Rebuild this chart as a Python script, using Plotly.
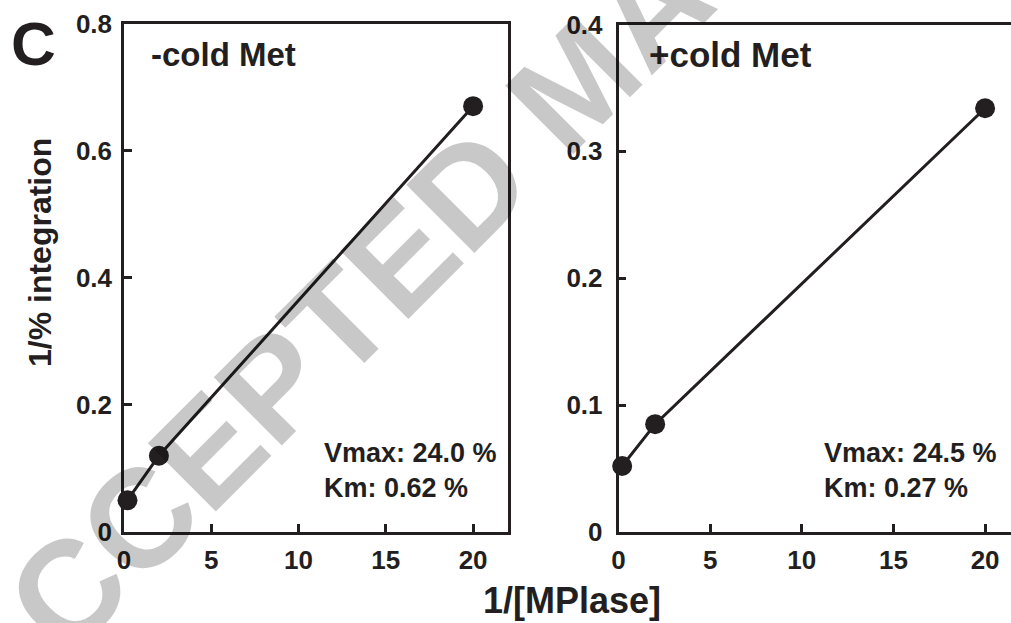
import plotly.graph_objects as go

# ---- data ----
inv_mplase = [0.2, 2, 20]                 # 1/[MPlase]
minus_cold_met = [0.05, 0.12, 0.67]       # 1/% integration, -cold Met
plus_cold_met = [0.052, 0.085, 0.334]     # 1/% integration, +cold Met

x_tick_vals = [0, 5, 10, 15, 20]
x_tick_text = ["0", "5", "10", "15", "20"]
left_y_vals = [0, 0.2, 0.4, 0.6, 0.8]
left_y_text = ["0", "0.2", "0.4", "0.6", "0.8"]
right_y_vals = [0, 0.1, 0.2, 0.3, 0.4]
right_y_text = ["0", "0.1", "0.2", "0.3", "0.4"]

panel_titles = ["-cold Met", "+cold Met"]
vmax_text = ["Vmax: 24.0 %", "Vmax: 24.5 %"]
km_text = ["Km: 0.62 %", "Km: 0.27 %"]

W, H = 1011, 623
INK = "#231f20"
FONT = "Liberation Sans, Arial, sans-serif"


def fx(p):
    return p / W


def fy(p):
    return 1 - p / H


fig = go.Figure()

for xs, ys, xa, ya in [(inv_mplase, minus_cold_met, "x", "y"),
                       (inv_mplase, plus_cold_met, "x2", "y2")]:
    fig.add_trace(go.Scatter(
        x=xs, y=ys, xaxis=xa, yaxis=ya, mode="lines+markers",
        line=dict(color=INK, width=3),
        marker=dict(color=INK, size=20),
        cliponaxis=False, showlegend=False,
    ))

axis_common = dict(
    showline=True, linecolor=INK, linewidth=2.5,
    ticks="inside", ticklen=8, tickwidth=2.5, tickcolor=INK,
    showgrid=False, zeroline=False, automargin=False,
    tickfont=dict(family=FONT, size=26, color=INK, weight="bold"),
)

fig.update_layout(
    template="none",
    width=W, height=H,
    margin=dict(l=0, r=0, t=0, b=0, pad=0, autoexpand=False),
    paper_bgcolor="white", plot_bgcolor="white",
    showlegend=False,
    xaxis=dict(domain=[fx(124), fx(508)], range=[0, 22], anchor="y",
               tickvals=x_tick_vals, ticktext=x_tick_text, mirror=True,
               ticklabelstandoff=3, **axis_common),
    yaxis=dict(domain=[fy(532), fy(23.5)], range=[0, 0.8], anchor="x",
               tickvals=left_y_vals, ticktext=left_y_text, mirror=True,
               ticklabelstandoff=4, **axis_common),
    xaxis2=dict(domain=[fx(618.5), 1.0], range=[0, (1011 - 618.5) / 18.33],
                anchor="y2", tickvals=x_tick_vals, ticktext=x_tick_text,
                mirror=True, ticklabelstandoff=3, **axis_common),
    yaxis2=dict(domain=[fy(532), fy(24.5)], range=[0, 0.4], anchor="x2",
                tickvals=right_y_vals, ticktext=right_y_text, mirror=False,
                ticklabelstandoff=8, **axis_common),
)

ann = []
# watermark (semi-transparent black so black lines stay black)
ann.append(dict(text="ACCEPTED MANUSCRIPT", xref="paper", yref="paper",
                x=fx(576), y=fy(82), xanchor="center", yanchor="middle",
                textangle=-45, showarrow=False,
                font=dict(family=FONT, size=140, color="rgba(0,0,0,0.215)",
                          weight="bold")))
# panel letter
ann.append(dict(text="C", xref="paper", yref="paper", x=fx(33), y=fy(43),
                xanchor="center", yanchor="middle", showarrow=False,
                font=dict(family=FONT, size=62, color=INK, weight="bold")))
# panel titles
for t, px, sz in zip(panel_titles, [149, 647], [33, 35]):
    ann.append(dict(text=t, xref="paper", yref="paper", x=fx(px), y=fy(54),
                    xanchor="left", yanchor="middle", showarrow=False,
                    font=dict(family=FONT, size=sz, color=INK, weight="bold")))
# kinetic values
for v, k, px in zip(vmax_text, km_text, [322, 822]):
    ann.append(dict(text=v, xref="paper", yref="paper", x=fx(px), y=fy(453),
                    xanchor="left", yanchor="middle", showarrow=False,
                    font=dict(family=FONT, size=27, color=INK, weight="bold")))
    ann.append(dict(text=k, xref="paper", yref="paper", x=fx(px), y=fy(488),
                    xanchor="left", yanchor="middle", showarrow=False,
                    font=dict(family=FONT, size=27, color=INK, weight="bold")))
# axis titles
ann.append(dict(text="1/% integration", xref="paper", yref="paper",
                x=fx(40), y=fy(253), xanchor="center", yanchor="middle",
                textangle=-90, showarrow=False,
                font=dict(family=FONT, size=32, color=INK, weight="bold")))
ann.append(dict(text="1/[MPlase]", xref="paper", yref="paper",
                x=fx(572), y=fy(600), xanchor="center", yanchor="middle",
                showarrow=False,
                font=dict(family=FONT, size=36, color=INK, weight="bold")))

fig.update_layout(annotations=ann)

fig.write_html(
    "out.html",
    config={"displayModeBar": False},
    post_script="document.body.style.margin='0px';"
                "document.body.style.overflow='hidden';",
)
